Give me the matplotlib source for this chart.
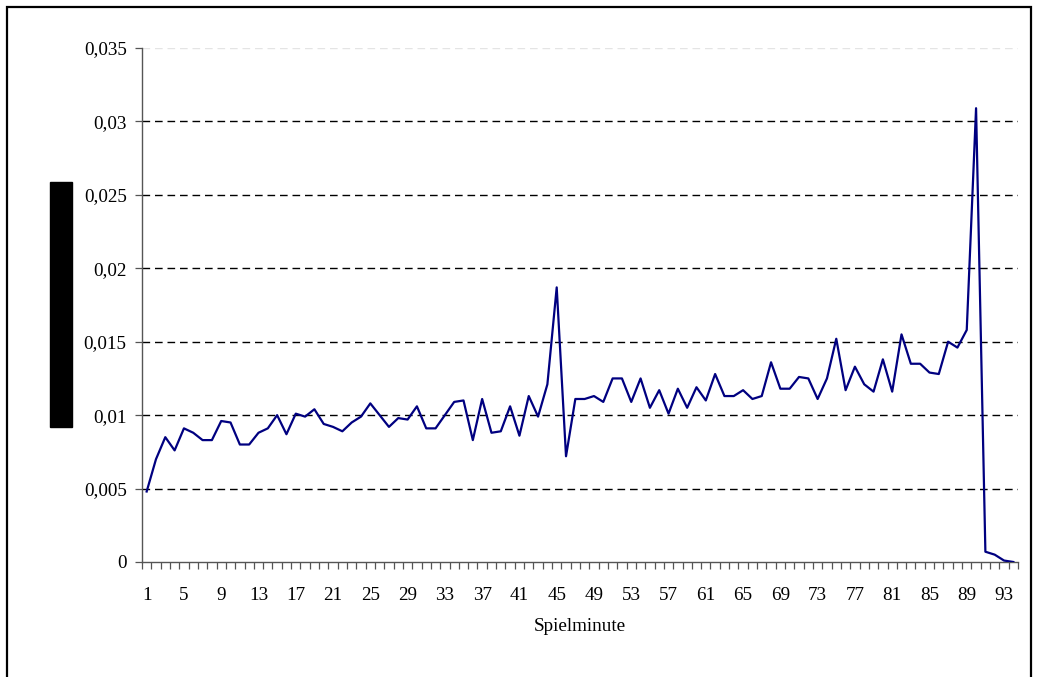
import numpy as np
import matplotlib
matplotlib.use("Agg")
import matplotlib.pyplot as plt
from matplotlib.patches import Rectangle

# --- Data ---
minutes = np.arange(1, 95)
share = [
    0.0048, 0.0070, 0.0085, 0.0076, 0.0091, 0.0088, 0.0083, 0.0083, 0.0096, 0.0095,
    0.0080, 0.0080, 0.0088, 0.0091, 0.0100, 0.0087, 0.0101, 0.0099, 0.0104, 0.0094,
    0.0092, 0.0089, 0.0095, 0.0099, 0.0108, 0.0100, 0.0092, 0.0098, 0.0097, 0.0106,
    0.0091, 0.0091, 0.0100, 0.0109, 0.0110, 0.0083, 0.0111, 0.0088, 0.0089, 0.0106,
    0.0086, 0.0113, 0.0099, 0.0121, 0.0187, 0.0072, 0.0111, 0.0111, 0.0113, 0.0109,
    0.0125, 0.0125, 0.0109, 0.0125, 0.0105, 0.0117, 0.0101, 0.0118, 0.0105, 0.0119,
    0.0110, 0.0128, 0.0113, 0.0113, 0.0117, 0.0111, 0.0113, 0.0136, 0.0118, 0.0118,
    0.0126, 0.0125, 0.0111, 0.0125, 0.0152, 0.0117, 0.0133, 0.0121, 0.0116, 0.0138,
    0.0116, 0.0155, 0.0135, 0.0135, 0.0129, 0.0128, 0.0150, 0.0146, 0.0158, 0.0309,
    0.0007, 0.0005, 0.0001, 0.0000,
]
x_labels = [str(m) for m in range(1, 95, 4)]
y_ticks = [0, 0.005, 0.01, 0.015, 0.02, 0.025, 0.03, 0.035]
y_labels = ["0", "0,005", "0,01", "0,015", "0,02", "0,025", "0,03", "0,035"]

plt.rcParams['font.family'] = ['Liberation Serif', 'DejaVu Serif']
FS = 13.8

fig = plt.figure(figsize=(10.38, 6.77), dpi=100)
ax = fig.add_axes([142 / 1038, 1 - 562 / 677, 876 / 1038, 514 / 677])

# dashed gridlines
for yv in y_ticks[1:-1]:
    ax.axhline(yv, color='black', lw=1.0, dashes=(5.5, 3.5), zorder=1)
ax.axhline(y_ticks[-1], color='#e4e4e4', lw=1.0, dashes=(5.5, 3.5), zorder=1)

ax.plot(minutes, share, color='#000080', lw=1.6, zorder=3)

ax.set_xlim(0.5, 94.5)
ax.set_ylim(0, 0.035)

ax.set_yticks(y_ticks)
ax.set_yticklabels(y_labels, fontsize=FS)
ax.tick_params(axis='y', direction='out', length=5, width=0.9, color='#555555', pad=6)

ax.set_xticks(range(1, 95, 4))
ax.set_xticklabels(x_labels, fontsize=FS)
ax.set_xticks(np.arange(0.5, 95, 1), minor=True)
ax.tick_params(axis='x', which='major', length=0, pad=18)
ax.tick_params(axis='x', which='minor', direction='out', length=5, width=0.9, color='#555555')

for side in ['top', 'right']:
    ax.spines[side].set_visible(False)
for side in ['left', 'bottom']:
    ax.spines[side].set_color('#555555')
    ax.spines[side].set_linewidth(1.0)

ax.set_xlabel("Spielminute", fontsize=FS, labelpad=10)

# redacted axis title block and outer frame
fig.patches.append(Rectangle((50 / 1038, 1 - 427 / 677), 22 / 1038, 245 / 677,
                             transform=fig.transFigure, color='black', zorder=5))
fig.patches.append(Rectangle((7 / 1038, -0.02), 1024 / 1038, 1.02 - 7 / 677,
                             transform=fig.transFigure, fill=False,
                             edgecolor='black', lw=1.6, zorder=5))

fig.savefig("out.png", dpi=100)
